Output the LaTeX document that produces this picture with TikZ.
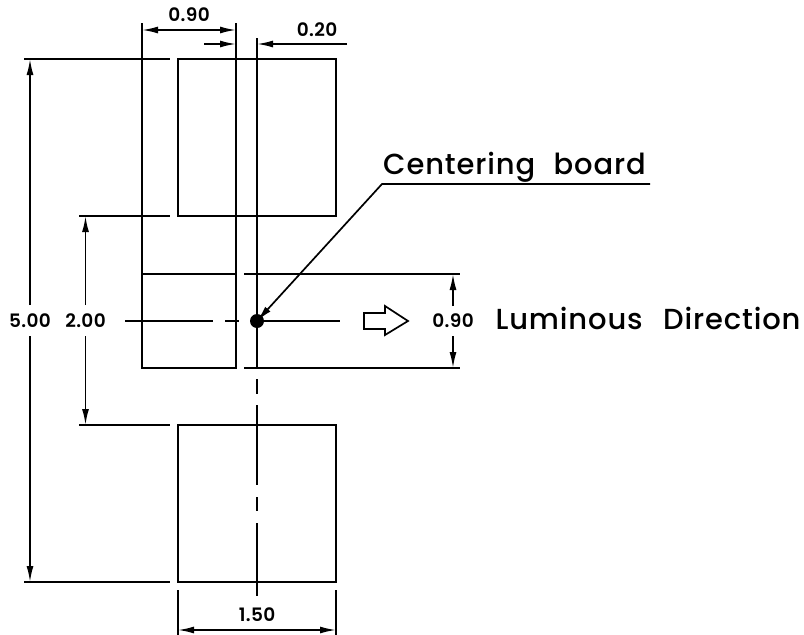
\documentclass[tikz,border=0pt]{standalone}
\usepackage{fontspec}
\setmainfont{Poppins}
\newfontfamily\bigfont[LetterSpace=3]{Poppins Medium}
\newfontfamily\dimfont[LetterSpace=2]{Poppins SemiBold}
\usetikzlibrary{arrows.meta}
\tikzset{
  x=1pt,y=-1pt,
  part/.style={draw=black,line width=2.4pt,fill=none,line join=miter,inner sep=0pt,outer sep=0pt},
  thinline/.style={draw=black,line width=1.7pt},
  dimline/.style={draw=black,line width=1.7pt},
  both/.style={dimline,{Latex[length=16pt,width=7pt]}-{Latex[length=16pt,width=7pt]}},
  endarrow/.style={dimline,-{Latex[length=16pt,width=7pt]}},
  dimtext/.style={font=\fontsize{18.5}{18.5}\dimfont,inner sep=0pt,text=black},
  bigtext/.style={font=\fontsize{29}{29}\bigfont,inner sep=0pt,text=black},
}
\begin{document}
\begin{tikzpicture}
\useasboundingbox (0,0) rectangle (804,635);
% parts
\node[part,minimum width=158pt,minimum height=157pt] (top) at (257,137.5) {};
\node[part,minimum width=158pt,minimum height=157pt] (bot) at (257,503.5) {};
\node[part,minimum width=94pt,minimum height=94pt] (mid) at (189,321) {};
% dot
\node[circle,fill=black,minimum size=14pt,inner sep=0pt] (dot) at (257,321) {};
% coordinates
\coordinate (v1t) at (142,23); \coordinate (v2t) at (236,23); \coordinate (v3t) at (257,38);
\coordinate (ext5a) at (24,59); \coordinate (ext5ae) at (170,59);
\coordinate (ext2a) at (79,216); \coordinate (ext2ae) at (170,216);
\coordinate (ext2b) at (79,425); \coordinate (ext2be) at (170,425);
\coordinate (ext5b) at (24,582); \coordinate (ext5be) at (170,582);
% extension lines
\draw[thinline] (v1t) -- (mid.north west);
\draw[thinline] (v2t) -- (mid.north east);
\draw[thinline] (v3t) -- (257,368);
\draw[thinline] (257,379) -- (257,394);
\draw[thinline] (257,405) -- (257,485);
\draw[thinline] (257,497) -- (257,511);
\draw[thinline] (257,523) -- (257,596);
\draw[thinline] (ext5a) -- (ext5ae);
\draw[thinline] (ext2a) -- (ext2ae);
\draw[thinline] (ext2b) -- (ext2be);
\draw[thinline] (ext5b) -- (ext5be);
\draw[thinline] (244,274) -- (460,274);
\draw[thinline] (244,368) -- (460,368);
\draw[thinline] (178,590) -- (178,635);
\draw[thinline] (336,590) -- (336,635);
% centre line
\draw[thinline] (125,321) -- (213,321);
\draw[thinline] (225,321) -- (239,321);
\draw[thinline] (dot) -- (340,321);
% dims
\draw[both] (142,30) -- (236,30);
\draw[endarrow] (204,44) -- (236,44);
\draw[endarrow] (347,44) -- (257,44);
\draw[both] (178,630) -- (336,630);
\draw[endarrow] (30,305) -- (30,59);
\draw[endarrow] (30,336) -- (30,582);
\draw[endarrow] (85.5,305) -- (85.5,216);
\draw[endarrow] (85.5,336) -- (85.5,425);
\draw[endarrow] (453,306) -- (453,274);
\draw[endarrow] (453,336) -- (453,368);
% leader
\coordinate (lead) at (382,184);
\draw[endarrow,line join=miter] (650,184) -- (lead) -- (dot.center);
% hollow arrow
\draw[black,line width=1.7pt,fill=white,line join=miter] (364,313) -- (385,313) -- (385,306) -- (408,321) -- (385,335) -- (385,329) -- (364,329) -- cycle;
% text
\node[dimtext] (t090) at (189,15) {0.90};
\node[dimtext] (t020) at (317,30) {0.20};
\node[dimtext] (t500) at (30,321) {5.00};
\node[dimtext] (t200) at (85.5,321) {2.00};
\node[dimtext] (t090b) at (453,321) {0.90};
\node[dimtext] (t150) at (257,615) {1.50};
\node[bigtext] (tc) at (514.5,167) {Centering\hspace{10pt} board};
\node[bigtext] (tl) at (648,318) {Luminous\hspace{12pt} Direction};
\end{tikzpicture}
\end{document}
